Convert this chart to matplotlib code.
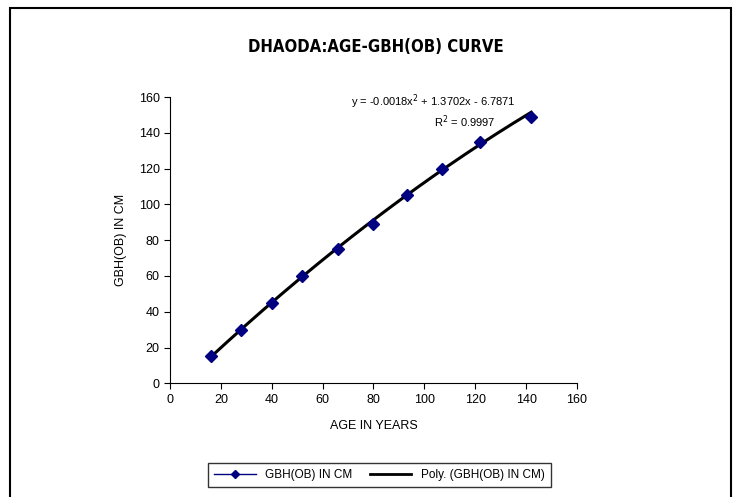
import numpy as np
import matplotlib
matplotlib.use("Agg")
import matplotlib.pyplot as plt
from matplotlib.lines import Line2D
from matplotlib.patches import Rectangle

plt.rcParams['font.family'] = ['Liberation Sans', 'DejaVu Sans']

# data
age = [16, 28, 40, 52, 66, 80, 93, 107, 122, 142]
gbh = [15, 30, 45, 60, 75, 89, 105, 120, 135, 149]
# trendline coefficients as printed on the chart
poly_coef = [-0.0018, 1.3702, -6.7871]
r2 = 0.9997

fig = plt.figure(figsize=(7.44, 4.97), dpi=100)
ax = fig.add_axes([0.2285, 0.2288, 0.547, 0.576])

# outer frame
fig.patches.append(Rectangle((10 / 744, -0.02), 721 / 744, 1 - 8 / 497 + 0.02,
                             transform=fig.transFigure, fill=False,
                             edgecolor='black', linewidth=1.5))

xs = np.linspace(min(age), max(age), 200)
ax.plot(xs, np.polyval(poly_coef, xs), color='black', linewidth=2.2, zorder=2)
ax.plot(age, gbh, linestyle='none', marker='D', markersize=6,
        color='#000080', zorder=3)

ax.set_xlim(0, 160)
ax.set_ylim(0, 160)
ax.set_xticks(range(0, 161, 20))
ax.set_yticks(range(0, 161, 20))
for s in ['top', 'right']:
    ax.spines[s].set_visible(False)
ax.tick_params(labelsize=9, direction='out', length=4)
ax.set_xlabel('AGE IN YEARS', fontsize=9, labelpad=10)
ax.set_ylabel('GBH(OB) IN CM', fontsize=9, labelpad=8)

fig.text(0.505, 0.905, 'DHAODA:AGE-GBH(OB) CURVE', ha='center', va='center',
         fontsize=12, fontweight='bold', family='DejaVu Sans', fontstretch='condensed')

ax.text(0.85, 0.985, 'y = -0.0018x$^2$ + 1.3702x - 6.7871', transform=ax.transAxes,
        ha='right', va='center', fontsize=8)
ax.text(0.80, 0.915, 'R$^2$ = %.4f' % r2, transform=ax.transAxes,
        ha='right', va='center', fontsize=8)

handles = [Line2D([], [], color='#000080', marker='D', markersize=4, linewidth=1),
           Line2D([], [], color='black', linewidth=2)]
leg = fig.legend(handles, ['GBH(OB) IN CM', 'Poly. (GBH(OB) IN CM)'],
                 loc='center', bbox_to_anchor=(0.51, 0.044), ncol=2,
                 fontsize=8.5, frameon=True, fancybox=False,
                 handlelength=3.5, columnspacing=1.5, borderpad=0.5)
leg.get_frame().set_edgecolor('black')
leg.get_frame().set_linewidth(1)

fig.savefig('out.png', dpi=100)
